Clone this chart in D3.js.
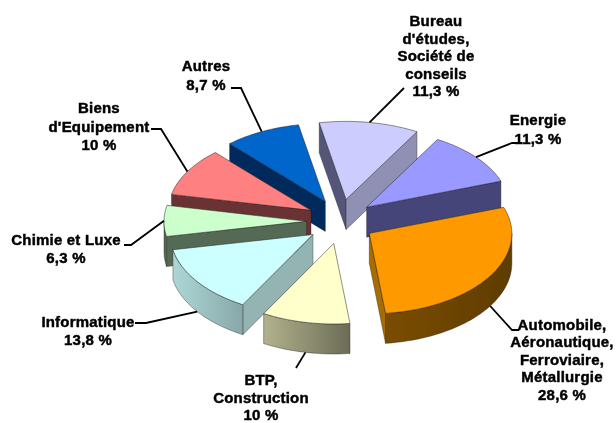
<!DOCTYPE html>
<html>
<head>
<meta charset="utf-8">
<script src="https://cdn.jsdelivr.net/npm/d3@7"></script>
<style>
  html, body { margin: 0; padding: 0; background: #fff; }
  svg { display: block; }
</style>
</head>
<body>
<div id="chart"></div>
<script>
// values, clockwise from the orange slice
const SECTORS = ["Automobile","BTP","Informatique","Chimie","Biens","Autres","Bureau","Energie"];
const VALUES  = [28.6, 10, 13.8, 6.3, 10, 8.7, 11.3, 11.3];

const LABEL_LINES = [
  ["Automobile,","Aéronautique,","Ferroviaire,","Métallurgie","28,6 %"],
  ["BTP,","Construction","10 %"],
  ["Informatique","13,8 %"],
  ["Chimie et Luxe","6,3 %"],
  ["Biens","d'Equipement","10 %"],
  ["Autres","8,7 %"],
  ["Bureau","d'études,","Société de","conseils","11,3 %"],
  ["Energie","11,3 %"]
];

// colours per sector
const TOP_COLOR   = ["#ff9900","#ffffcc","#ccffff","#ccffcc","#ff8080","#0066cc","#ccccff","#9999ff"];
const START_WALL  = ["#6b4300","#8a8a6c","#94b4b4","#556b55","#6b3333","#002a5c","#55557a","#44447a"];
const END_WALL    = ["#a86c00","#8a8a6c","#94b4b4","#556b55","#6b3333","#002a5c","#9090b4","#44447a"];
const ARC_LEFT    = ["#7a4d00","#b2b28e","#aed6d6","#556b55","#6b3333","#002a5c","#55557a","#44447a"];
const ARC_RIGHT   = ["#5f3c00","#6c6c56","#88a8a8","#556b55","#6b3333","#002a5c","#55557a","#44447a"];

// label layout: text centre, first baseline, line step, leader elbow
const LABEL_X  = [562, 261, 88, 66, 99, 206, 436, 538];
const LABEL_Y  = [330, 385, 327, 245, 113, 71, 26, 125];
const LABEL_DY = [17.4, 17.5, 17.5, 18, 18.5, 18.5, 17.5, 19];
const ELBOWS   = [
  [[512,330],[519,330]],
  [[296,368]],
  [[146,323],[135,323]],
  [[131,245],[124,245]],
  [[161,129],[151,129]],
  [[241,88],[231,88]],
  [[404,88]],
  [[512,143],[522,143]]
];

const W = 616, H = 423;
const CX = 340.5, CY = 221.5;      // pie centre
const RX = 142.5;                  // half width of the tilted disc
const RY_FRONT = 80.5, RY_BACK = 78;  // the far half is a bit flatter
const EX = 34, EY = 22.4;          // explosion
const DEPTH = 30;
const START_DEG = 70.5;

const svg = d3.select("#chart").append("svg").attr("width", W).attr("height", H);
const defs = svg.append("defs");

// the reference is a soft low resolution bitmap
defs.append("filter").attr("id", "soft")
  .append("feGaussianBlur").attr("stdDeviation", 0.35);

const arcs = d3.pie().sort(null)
  .startAngle(START_DEG * Math.PI / 180)
  .endAngle((START_DEG + 360) * Math.PI / 180)(VALUES);

const sx = d3.scaleLinear().domain([-1, 1]).range([-RX, RX]);
const sy = d3.scaleLinear().domain([-1, 0, 1]).range([-RY_FRONT, 0, RY_BACK]);
const lineGen = d3.line();

function apex(a) {
  const mid = (a.startAngle + a.endAngle) / 2;
  return [CX + EX * Math.sin(mid), CY - EY * Math.cos(mid)];
}
function rim(a, ang, drop) {
  const c = apex(a);
  return [c[0] + sx(Math.sin(ang)), c[1] - sy(Math.cos(ang)) + (drop || 0)];
}
function sweep(a0, a1) {
  const n = Math.max(2, Math.ceil((a1 - a0) / 0.02));
  return d3.range(n + 1).map(i => a0 + (a1 - a0) * i / n);
}
function down(p) { return [p[0], p[1] + DEPTH]; }

// back slices first so the front ones sit on top of them
const ORDER = [5, 6, 4, 7, 3, 0, 2, 1];
const chart = svg.append("g").attr("filter", "url(#soft)");

ORDER.forEach(i => {
  const a = arcs[i];
  const c = apex(a);
  const g = chart.append("g").attr("class", "slice-" + SECTORS[i]);
  const edge = "#222";

  // radial walls, only those turned to the viewer
  const walls = [];
  if (Math.sin(a.startAngle) < 0) walls.push([a.startAngle, START_WALL[i]]);
  if (Math.sin(a.endAngle) > 0) walls.push([a.endAngle, END_WALL[i]]);
  walls.forEach(([ang, col]) => {
    const p = rim(a, ang);
    g.append("path")
      .attr("d", lineGen([c, p, down(p), down(c)]) + "Z")
      .attr("fill", col).attr("stroke", edge).attr("stroke-width", 0.4);
  });

  // outer skin, only the part turned to the viewer
  d3.range(-1, 2).map(k => k * 2 * Math.PI).forEach(k => {
    const a0 = Math.max(a.startAngle, Math.PI / 2 + k);
    const a1 = Math.min(a.endAngle, 3 * Math.PI / 2 + k);
    if (a1 <= a0) return;
    const id = "skin-" + i;
    const grad = defs.append("linearGradient").attr("id", id);
    grad.append("stop").attr("offset", "0%").attr("stop-color", ARC_LEFT[i]);
    grad.append("stop").attr("offset", "100%").attr("stop-color", ARC_RIGHT[i]);
    const top = sweep(a0, a1).map(t => rim(a, t));
    g.append("path")
      .attr("d", lineGen(top.concat(top.map(down).reverse())) + "Z")
      .attr("fill", `url(#${id})`).attr("stroke", edge).attr("stroke-width", 0.4);
  });

  // top face
  const face = [c].concat(sweep(a.startAngle, a.endAngle).map(t => rim(a, t)));
  g.append("path")
    .attr("d", lineGen(face) + "Z")
    .attr("fill", TOP_COLOR[i]).attr("stroke", edge).attr("stroke-width", 0.5);
});

// leaders
arcs.forEach((a, i) => {
  const mid = (a.startAngle + a.endAngle) / 2;
  const front = Math.cos(mid) < 0;
  const start = rim(a, mid, front ? DEPTH : 0);
  svg.append("path")
    .attr("d", lineGen([start].concat(ELBOWS[i])))
    .attr("fill", "none").attr("stroke", "#000").attr("stroke-width", 1.8)
    .attr("filter", "url(#soft)");
});

// labels
LABEL_LINES.forEach((lines, i) => {
  const t = svg.append("text")
    .attr("text-anchor", "middle")
    .attr("font-family", "'Liberation Sans', Arial, sans-serif")
    .attr("font-size", "15px").attr("font-weight", "bold")
    .attr("letter-spacing", "0.2px")
    .attr("fill", "#000").attr("stroke", "#000").attr("stroke-width", 0.45)
    .attr("filter", "url(#soft)");
  lines.forEach((s, k) => {
    t.append("tspan").attr("x", LABEL_X[i]).attr("y", LABEL_Y[i] + k * LABEL_DY[i]).text(s);
  });
});
</script>
</body>
</html>
